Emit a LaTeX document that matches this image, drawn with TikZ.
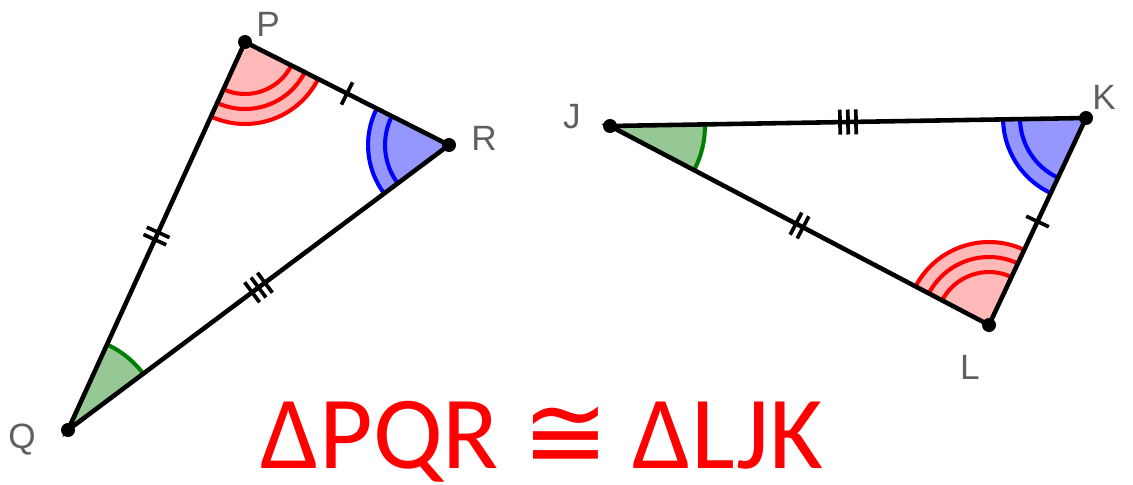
\documentclass[tikz,border=0pt]{standalone}
\usepackage{fontspec}
\setmainfont{Carlito}
\newfontfamily\labfont{Liberation Sans}
\newfontfamily\symfont{DejaVu Sans}
\usetikzlibrary{angles,calc}
\definecolor{redfill}{RGB}{255,185,185}
\definecolor{bluefill}{RGB}{150,150,255}
\definecolor{greenfill}{RGB}{150,200,150}
\definecolor{greenline}{RGB}{0,128,0}
\definecolor{labgray}{RGB}{95,95,95}
\tikzset{
  side/.style={line width=2.6pt,line cap=round},
  tick/.style={line width=2.1pt},
  arcline/.style={line width=2.3pt},
  vtx/.style={circle,fill=black,inner sep=0pt,minimum size=0.28cm},
  lab/.style={text=labgray,font=\labfont\fontsize{20}{20}\selectfont}
}
% angle mark: #1 = A--B--C, #2 = line colour, #3 = fill colour, #4 = outer radius, #5 = radii of arcs
\newcommand{\angleMark}[5]{
  \pic[fill=#3,angle radius=#4cm] {angle=#1};
  \foreach \r in {#5}
    \pic[draw=#2,arcline,angle radius=\r cm] {angle=#1};
}
% equal-side ticks: #1,#2 = end points, #3 = number of ticks
\newcommand{\tickMarks}[3]{
  \foreach \k in {1,...,#3}{
    \pgfmathsetmacro\off{(\k-(#3+1)/2)*0.16}
    \coordinate (T) at ($(#1)!0.5!(#2)!\off cm!(#2)$);
    \draw[tick] ($(T)!0.25cm!90:(#2)$) -- ($(T)!-0.25cm!90:(#2)$);
  }
}

\begin{document}
\begin{tikzpicture}[x=0.02cm,y=-0.02cm]
  \useasboundingbox (0,0) rectangle (1133,484);

  % first triangle
  \coordinate (P) at (245,42);
  \coordinate (Q) at (68,430);
  \coordinate (R) at (449,145);
  % second triangle
  \coordinate (J) at (610,126);
  \coordinate (K) at (1086,118);
  \coordinate (L) at (989,325);

  % ================= angle marks =================
  \angleMark{Q--P--R}{red}{redfill}{1.64}{1.04,1.34,1.64}
  \angleMark{K--L--J}{red}{redfill}{1.66}{1.06,1.36,1.66}
  \angleMark{P--R--Q}{blue}{bluefill}{1.62}{1.28,1.62}
  \angleMark{J--K--L}{blue}{bluefill}{1.66}{1.32,1.66}
  \angleMark{R--Q--P}{greenline}{greenfill}{1.88}{1.88}
  \angleMark{L--J--K}{greenline}{greenfill}{1.90}{1.90}

  % ================= sides =================
  \draw[side] (P) -- (R) -- (Q) -- cycle;
  \draw[side] (J) -- (K) -- (L) -- cycle;

  \tickMarks{P}{R}{1}
  \tickMarks{Q}{P}{2}
  \tickMarks{Q}{R}{3}
  \tickMarks{L}{K}{1}
  \tickMarks{J}{L}{2}
  \tickMarks{J}{K}{3}

  % ================= vertices =================
  \foreach \v in {P,Q,R,J,K,L}
    \node[vtx] (d\v) at (\v) {};

  \node[lab] (lP) at (268,24) {P};
  \node[lab] (lR) at (484,138) {R};
  \node[lab] (lQ) at (22,440) {Q};
  \node[lab] (lJ) at (572,117) {J};
  \node[lab] (lK) at (1104,97) {K};
  \node[lab] (lL) at (970,367) {L};

  \node[anchor=base,inner sep=0pt,text=red,font=\fontsize{59}{59}\selectfont] (eq) at (542,468)
    {ΔPQR {\symfont ≅} ΔLJK};
\end{tikzpicture}
\end{document}
